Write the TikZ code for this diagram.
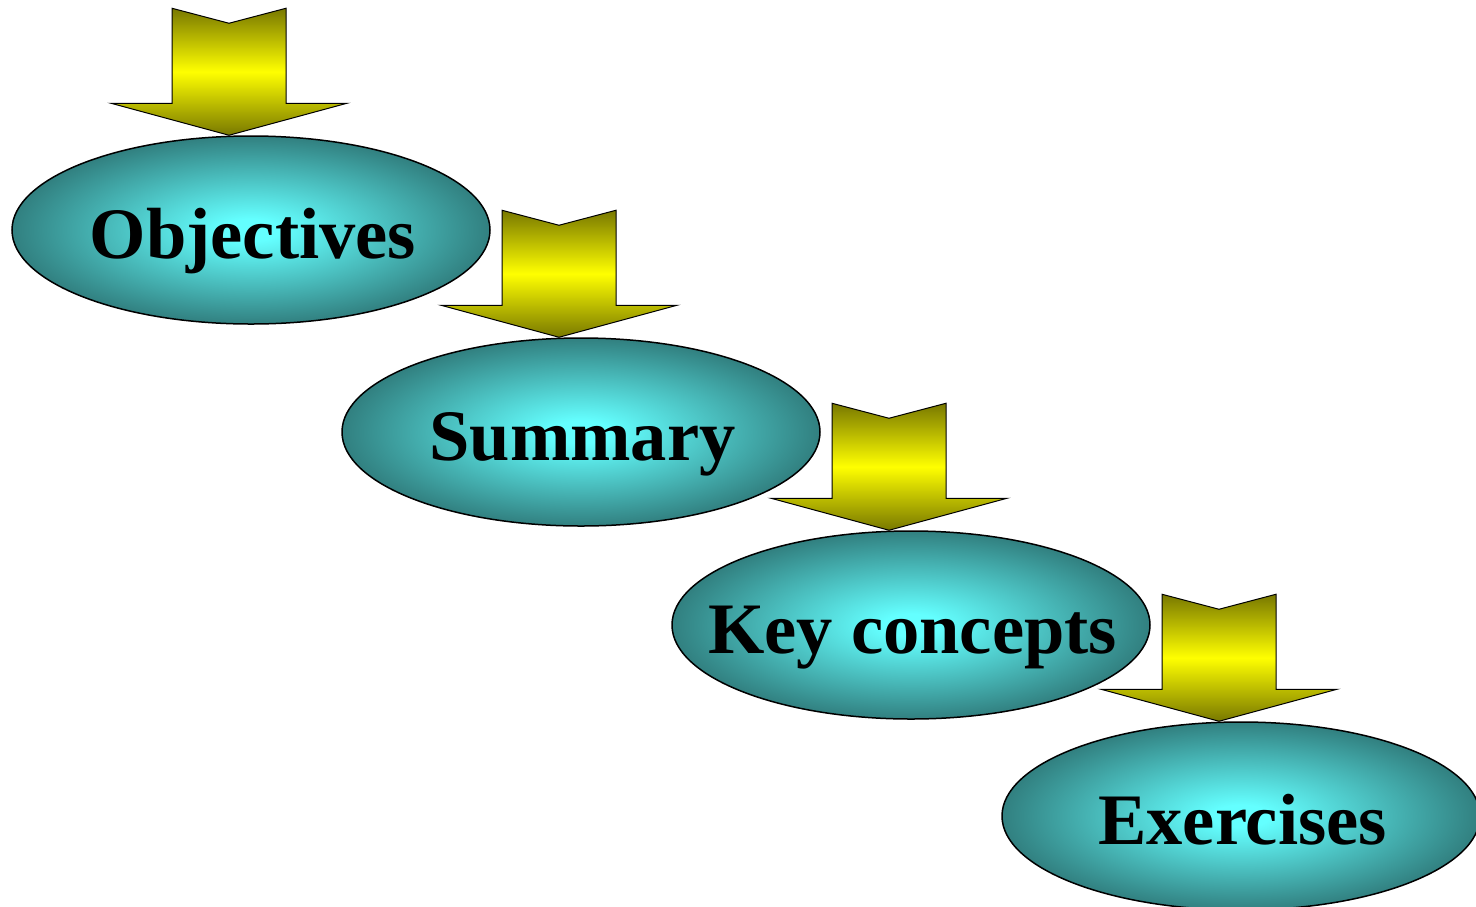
\documentclass[tikz,border=0pt]{standalone}
\usepackage{fontspec}
\setmainfont{Liberation Serif}
\usetikzlibrary{shapes.geometric}
\definecolor{cyanc}{RGB}{100,255,255}
\definecolor{tealc}{RGB}{47,122,122}
\definecolor{olivec}{RGB}{120,120,0}
\definecolor{yellowc}{RGB}{255,255,0}
\pgfdeclareradialshading{ellshade}{\pgfpoint{0bp}{0bp}}{color(0bp)=(cyanc); color(3bp)=(cyanc); color(26bp)=(tealc); color(50bp)=(tealc)}
\tikzset{
  stage/.style={ellipse, draw=black, line width=1.5pt, shading=ellshade,
    minimum width=478pt, minimum height=188pt, inner sep=0pt},
  stagetext/.style={anchor=base, inner sep=0pt,
    font=\fontsize{72.5}{80}\selectfont\bfseries},
  blockarrow/.style={draw=black, line width=1pt, shading=axis,
    top color=olivec, bottom color=olivec, middle color=yellowc}
}
\newcommand{\downarrowshape}[1]{%
  \path[blockarrow, shift={(#1)}] (-22,0) -- (96,-32) -- (35,-32) -- (35,-127)
    -- (-22,-112) -- (-79,-127) -- (-79,-32) -- (-140,-32) -- cycle;}
\begin{document}
\begin{tikzpicture}[x=1pt,y=-1pt]
\useasboundingbox (0,0) rectangle (1476,906);
\clip (0,0) rectangle (1476,906);
\node[stage] (obj) at (251,230) {};
\node[stage] (sum) at (581,432) {};
\node[stage] (key) at (911,625) {};
\node[stage] (exe) at (1241,816) {};
\node[stagetext] (objt) at ([xshift=2pt,yshift=-28pt]obj.center) {Objectives};
\node[stagetext] (sumt) at ([xshift=1.5pt,yshift=-28pt]sum.center) {Summary};
\node[stagetext] (keyt) at ([xshift=1.5pt,yshift=-28pt]key.center) {Key concepts};
\node[stagetext] (exet) at ([xshift=1.5pt,yshift=-28pt]exe.center) {Exercises};
\downarrowshape{obj.north}
\downarrowshape{sum.north}
\downarrowshape{key.north}
\downarrowshape{exe.north}
\end{tikzpicture}
\end{document}
